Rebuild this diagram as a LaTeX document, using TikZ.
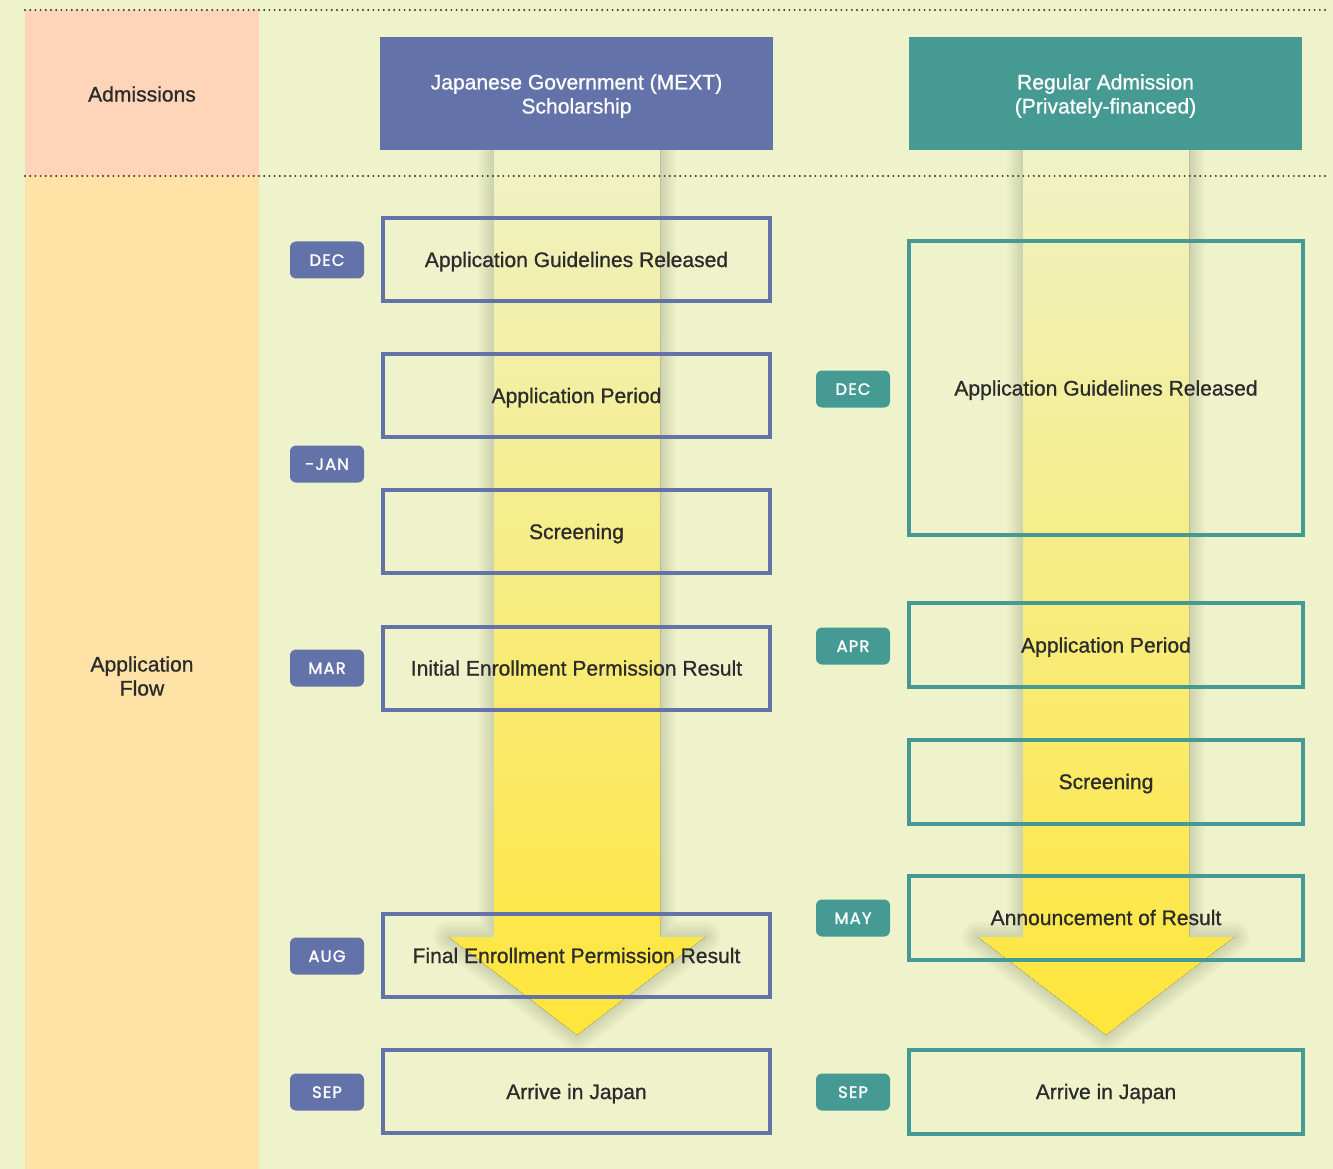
\documentclass[tikz,border=0pt]{standalone}
\usepackage{fontspec}
\setmainfont[FakeBold=0.9]{Liberation Sans}
\newfontfamily\tagfont[LetterSpace=7,FakeBold=1.6]{Poppins}
\definecolor{bg}{HTML}{EEF3CB}
\definecolor{salmon}{HTML}{FFD5BA}
\definecolor{orangecol}{HTML}{FEE2A6}
\definecolor{mext}{HTML}{6372A8}
\definecolor{reg}{HTML}{459A94}
\definecolor{txt}{HTML}{2B2B2B}
\definecolor{ytop}{HTML}{EFF2C6}
\definecolor{ybot}{HTML}{FFE63A}
\begin{document}
\begin{tikzpicture}[x=0.75pt,y=-0.75pt,
  every node/.style={font=\fontsize{15.8}{18}\selectfont, text=txt},
  onel/.style={text height=11.3pt, text depth=0pt},
  header/.style={fill=#1, inner sep=0pt, minimum width=294.75pt, minimum height=84.75pt, text=white, align=center},
  stepbox/.style={draw=#1, line width=3pt, inner sep=0pt, minimum width=290.25pt, minimum height=62.25pt, align=center, onel},
  rstepbox/.style={draw=reg, line width=3pt, inner sep=0pt, minimum width=295.5pt, minimum height=#1, align=center, onel},
  tagbox/.style={fill=#1, rounded corners=4.5pt, inner sep=0pt, minimum width=55.5pt, minimum height=27.75pt, text=white, font=\tagfont\fontsize{12.3}{13}\selectfont, text height=8.8pt, text depth=0pt},
  dotline/.style={draw=black!80, line width=1.6pt, line cap=round, dash pattern=on 0pt off 3.9pt},
  sidecell/.style={inner sep=0pt, align=center},
  headtext/.style={text=white, align=center, inner sep=0pt}
]
\useasboundingbox (0,0) rectangle (1333,1169);
\fill[bg] (0,0) rectangle (1333,1169);
\fill[salmon] (25,10) rectangle (259,176);
\fill[orangecol] (25,176) rectangle (259,1169);

% arrows with soft shadows
\foreach \dx in {0,529}{
  \begin{scope}[xshift=\dx*0.75pt]
  \foreach \w in {32,28,24,20,16,12,8,4}{
    \draw[black, opacity=0.016, line width=\w*0.75pt, line join=round]
      (494,150) -- (494,937) -- (449,937) -- (577,1035) -- (705,937) -- (660,937) -- (660,150);
  }
  \fill[top color=ytop, bottom color=ybot]
      (494,150) -- (494,937) -- (449,937) -- (577,1035) -- (705,937) -- (660,937) -- (660,150) -- cycle;
  \end{scope}
}

\draw[dotline] (25,10) -- (1325,10);
\draw[dotline] (25,176) -- (1325,176);

\node[sidecell, onel] (adm) at (142,94) {Admissions};
\node[sidecell] (flow) at (142,676) {Application\\Flow};

\node[header=mext] (hm) at (576.5,93.5) {};
\node[header=reg] (hr) at (1105.5,93.5) {};
\node[headtext] (hmt) at (576.5,96) {Japanese Government (MEXT)\\Scholarship};
\node[headtext] (hrt) at (1105.5,96) {Regular Admission\\(Privately-financed)};

% left column
\node[stepbox=mext] (l1) at (576.5,259.5) {Application Guidelines Released};
\node[stepbox=mext] (l2) at (576.5,395.5) {Application Period};
\node[stepbox=mext] (l3) at (576.5,531.5) {Screening};
\node[stepbox=mext] (l4) at (576.5,668) {Initial Enrollment Permission Result};
\node[stepbox=mext] (l5) at (576.5,955.5) {Final Enrollment Permission Result};
\node[stepbox=mext] (l6) at (576.5,1091.5) {Arrive in Japan};

\node[tagbox=mext] (t1) at (327,260) {DEC};
\node[tagbox=mext] (t2) at (327,464) {-JAN};
\node[tagbox=mext] (t3) at (327,668) {MAR};
\node[tagbox=mext] (t4) at (327,956) {AUG};
\node[tagbox=mext] (t5) at (327,1092) {SEP};

% right column
\node[rstepbox=220.5pt] (r1) at (1106,388) {Application Guidelines Released};
\node[rstepbox=63pt] (r2) at (1106,645) {Application Period};
\node[rstepbox=63pt] (r3) at (1106,781.5) {Screening};
\node[rstepbox=63pt] (r4) at (1106,917.5) {Announcement of Result};
\node[rstepbox=63pt] (r5) at (1106,1091.5) {Arrive in Japan};

\node[tagbox=reg] (s1) at (853,389) {DEC};
\node[tagbox=reg] (s2) at (853,646) {APR};
\node[tagbox=reg] (s3) at (853,918) {MAY};
\node[tagbox=reg] (s4) at (853,1092) {SEP};
\end{tikzpicture}
\end{document}
